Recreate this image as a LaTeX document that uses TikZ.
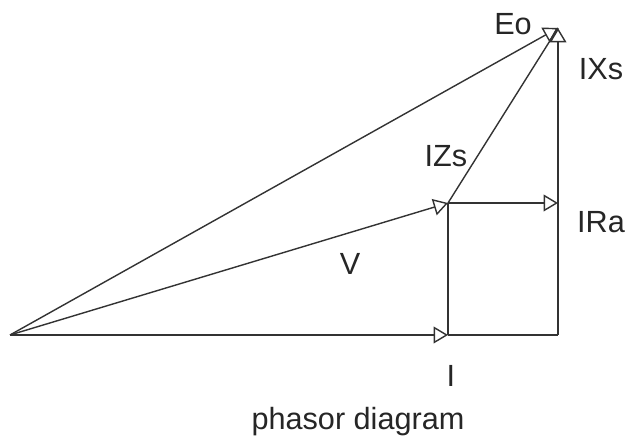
\documentclass[tikz,border=0pt]{standalone}
\usepackage{fontspec}
\setmainfont{Liberation Sans}
\usepackage{tikz}
\usetikzlibrary{arrows.meta,positioning,calc}

\tikzset{
  phasor/.style={draw=black!80, line width=1pt, -{Triangle[open, length=0.36cm, width=0.42cm]}},
  guide/.style={draw=black!80, line width=1pt},
  lbl/.style={anchor=base, inner sep=0pt, font=\fontsize{21.8}{26}\selectfont, text=black!85}
}

\begin{document}
\begin{tikzpicture}
\useasboundingbox (0,0) rectangle (15.675,10.975);

% points of the diagram
\coordinate (O) at (0.25, 2.6);
\coordinate (A) at (11.2, 2.6);
\coordinate (B) at (11.2, 5.9);
\coordinate (C) at (13.95, 2.6);
\coordinate (D) at (13.95, 5.9);
\coordinate (E) at (13.95, 10.275);

% current and voltage
\draw[phasor] (O) -- (A);
\draw[guide] (A) -- (C);
\draw[guide] (A) -- (B);
\draw[phasor] (O) -- (B);

% drops
\draw[phasor] (B) -- (D);
\draw[phasor] (C) -- (E);
\draw[guide] (B) -- (E);

% emf
\draw[phasor] (O) -- (E);

% labels
\node[lbl] (lEo) at (12.825, 10.1) {Eo};
\node[lbl] (lIXs) at (15.025, 8.975) {IXs};
\node[lbl] (lIZs) at (11.15, 6.8) {IZs};
\node[lbl] (lIRa) at (15.025, 5.15) {IRa};
\node[lbl] (lV) at (8.75, 4.1) {V};
\node[lbl] (lI) at (11.275, 1.3) {I};
\node[lbl] (title) at (8.95, 0.225) {phasor diagram};
\end{tikzpicture}
\end{document}
